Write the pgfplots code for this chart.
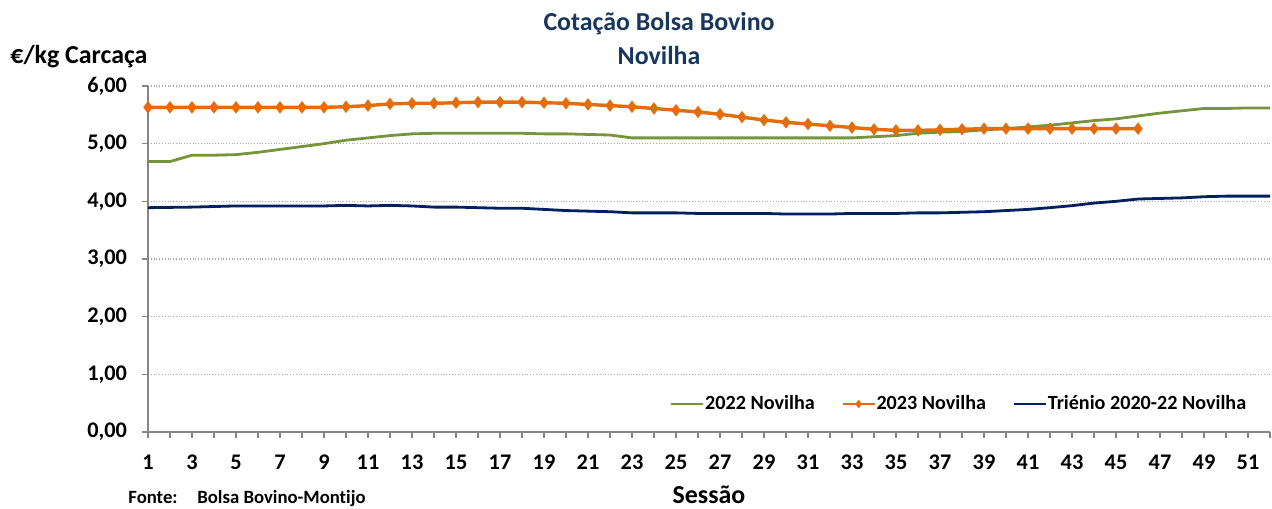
\documentclass[border=0pt]{standalone}
\usepackage{fontspec}
\setmainfont{Carlito}[Ligatures=CommonOff]
\usepackage{pgfplots}
\pgfplotsset{compat=1.18}
\usepackage{pgfplotstable}
\definecolor{cgreen}{HTML}{77933C}
\definecolor{corange}{HTML}{E46C0A}
\definecolor{cnavy}{HTML}{002060}
\definecolor{ctitle}{HTML}{17375E}
\definecolor{caxis}{HTML}{868686}
\pgfplotsset{
  legline/.style={legend image code/.code={\draw[##1, line width=0.9bp] (0bp,0bp) -- (16bp,0bp);}},
  legmark/.style={legend image code/.code={\draw[##1, line width=0.9bp] (0bp,0bp) -- (16bp,0bp); \path[##1, mark size=1.8bp] plot coordinates {(8bp,0bp)};}},
}
\pgfplotstableread{
x y
1 4.69
2 4.69
3 4.80
4 4.80
5 4.81
6 4.85
7 4.90
8 4.95
9 5.00
10 5.06
11 5.10
12 5.14
13 5.17
14 5.18
15 5.18
16 5.18
17 5.18
18 5.18
19 5.17
20 5.17
21 5.16
22 5.15
23 5.10
24 5.10
25 5.10
26 5.10
27 5.10
28 5.10
29 5.10
30 5.10
31 5.10
32 5.10
33 5.10
34 5.12
35 5.14
36 5.18
37 5.20
38 5.21
39 5.24
40 5.26
41 5.29
42 5.32
43 5.36
44 5.40
45 5.43
46 5.48
47 5.53
48 5.57
49 5.61
50 5.61
51 5.62
52 5.62
}\tabA
\pgfplotstableread{
x y
1 5.63
2 5.63
3 5.63
4 5.63
5 5.63
6 5.63
7 5.63
8 5.63
9 5.63
10 5.64
11 5.66
12 5.69
13 5.70
14 5.70
15 5.71
16 5.72
17 5.72
18 5.72
19 5.71
20 5.70
21 5.68
22 5.66
23 5.64
24 5.61
25 5.58
26 5.55
27 5.51
28 5.46
29 5.41
30 5.37
31 5.34
32 5.31
33 5.28
34 5.25
35 5.23
36 5.23
37 5.24
38 5.25
39 5.26
40 5.26
41 5.26
42 5.26
43 5.26
44 5.26
45 5.26
46 5.26
}\tabB
\pgfplotstableread{
x y
1 3.89
2 3.895
3 3.90
4 3.91
5 3.92
6 3.92
7 3.92
8 3.92
9 3.92
10 3.93
11 3.92
12 3.93
13 3.92
14 3.90
15 3.90
16 3.89
17 3.88
18 3.88
19 3.86
20 3.84
21 3.83
22 3.82
23 3.80
24 3.80
25 3.80
26 3.79
27 3.79
28 3.79
29 3.79
30 3.78
31 3.78
32 3.78
33 3.79
34 3.79
35 3.79
36 3.80
37 3.80
38 3.81
39 3.82
40 3.84
41 3.86
42 3.89
43 3.925
44 3.97
45 4.00
46 4.04
47 4.05
48 4.06
49 4.08
50 4.09
51 4.09
52 4.09
}\tabC
\begin{document}
\begin{tikzpicture}[x=1bp,y=1bp]
\path[use as bounding box] (0,0) rectangle (636,254);
\begin{axis}[
  at={(74bp,38bp)}, anchor=south west,
  scale only axis, width=561bp, height=173bp,
  xmin=1, xmax=52, ymin=0, ymax=6,
  axis x line*=bottom, axis y line*=left,
  axis line style={caxis, line width=0.8bp},
  xtick={1,3,...,51}, minor xtick={2,4,...,52},
  ytick={0,1,...,6},
  tick align=outside,
  major tick length=3bp, minor tick length=3bp,
  tick style={caxis, line width=0.6bp},
  ymajorgrids,
  grid style={densely dotted, gray!70, line width=0.6bp},
  /pgf/number format/assume math mode=true,
  tick label style={font=\fontsize{11.2}{13}\selectfont\bfseries, black},
  yticklabel={\pgfmathprintnumber[fixed,fixed zerofill,precision=2,use comma]{\tick}},
  yticklabel style={xshift=-4bp},
  xticklabel style={yshift=-5bp},
  legend style={at={(0.98,0.081)}, anchor=east, draw=none, fill=none,
    font=\fontsize{10.1}{12}\selectfont\bfseries, legend columns=3,
    /tikz/every even column/.append style={column sep=13bp},
    nodes={inner sep=0.5bp},
    inner sep=0pt},
  legend cell align=left,
]
\addplot[cgreen, line width=1.4bp, no marks, legline] table {\tabA};
\addlegendentry{2022 Novilha}
\addplot[corange, line width=1.7bp, mark=diamond*, mark size=2.8bp,
  mark options={solid, fill=corange, draw=corange, line width=0.4bp}, legmark] table {\tabB};
\addlegendentry{2023 Novilha}
\addplot[cnavy, line width=1.4bp, no marks, legline] table {\tabC};
\addlegendentry{Triénio 2020-22 Novilha}
\end{axis}
\node[ctitle, font=\fontsize{13}{15}\selectfont\bfseries] at (329.5,242) {Cotação Bolsa Bovino};
\node[ctitle, font=\fontsize{13}{15}\selectfont\bfseries] at (329.5,226) {Novilha};
\node[anchor=west, inner sep=0pt, font=\fontsize{13}{15}\selectfont\bfseries] at (5,225.5) {€/kg Carcaça};
\node[font=\fontsize{13}{15}\selectfont\bfseries] at (354.5,6.5) {Sessão};
\node[anchor=base west, inner sep=0pt, font=\fontsize{9.4}{11}\selectfont\bfseries] at (64,2.5) {Fonte:};
\node[anchor=base west, inner sep=0pt, font=\fontsize{9.4}{11}\selectfont\bfseries] at (98.5,2.5) {Bolsa Bovino-Montijo};
\end{tikzpicture}
\end{document}
